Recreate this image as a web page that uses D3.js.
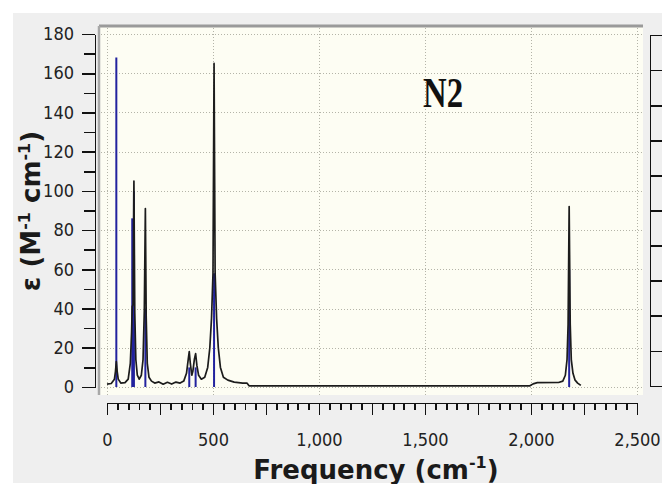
<!DOCTYPE html>
<html>
<head>
<meta charset="utf-8">
<script src="https://cdn.jsdelivr.net/npm/d3@7"></script>
<style>
  html, body { margin: 0; padding: 0; background: #fff; }
  svg { display: block; }
  .tick text { font-family: "DejaVu Sans Condensed", "DejaVu Sans", sans-serif; font-stretch: condensed; font-size: 18px; fill: #222; }
  .axis path, .axis line { stroke: #111; stroke-width: 1.6; shape-rendering: crispEdges; }
  .title { font-family: "DejaVu Sans", sans-serif; font-weight: bold; fill: #1a1a1a; }
</style>
</head>
<body>
<div id="chart"></div>
<script>
// spectrum curve (frequency cm-1, epsilon)
const specFreq = [0, 20, 35, 40, 44, 48, 53, 65, 85, 100, 110, 116, 119, 123, 127, 131, 136, 143, 152, 162, 170, 176, 181, 185, 190, 198, 210, 225, 245, 265, 285, 305, 325, 345, 362, 375, 383, 388, 393, 400, 405, 412, 418, 424, 432, 445, 461, 475, 485, 493, 500, 505, 510, 517, 525, 535, 549, 570, 600, 640, 660, 670, 1995, 2010, 2030, 2130, 2150, 2162, 2170, 2175, 2180, 2185, 2190, 2198, 2208, 2220, 2235];
const specEps  = [1.5, 1.8, 4, 8, 13, 8, 4, 2, 2.2, 4, 12, 28, 41, 42, 105, 38, 14, 6, 4, 6, 14, 39, 91, 35, 12, 5, 3, 2, 2.6, 1.4, 2.4, 1.5, 2.5, 2, 3, 7, 14, 18, 12, 6, 8, 14, 17, 11, 6, 4, 5, 10, 20, 35, 58, 165, 58, 35, 20, 10, 5, 3.5, 2.5, 2, 2, 0.6, 0.6, 1.6, 2.2, 2.3, 3, 6, 14, 32, 92, 32, 14, 7, 3.5, 2, 0.8];

// stick spectrum (blue)
const stickFreq   = [44, 119, 127, 181, 388, 418, 505, 2180];
const stickHeight = [168, 86, 100, 40, 10, 10, 58, 60];

const xTickValues = [0, 500, 1000, 1500, 2000, 2500];
const yTickValues = [0, 20, 40, 60, 80, 100, 120, 140, 160, 180];
const yMinorValues = [10, 30, 50, 70, 90, 110, 130, 150, 170];
const rightTickValues = [0, 1, 2, 3, 4, 5, 6, 7, 8, 9, 10];
const xLabel = "Frequency (cm";
const yLabel = "ε (M";
const moleculeName = "N2";

const W = 662, H = 484;
const svg = d3.select('#chart').append('svg').attr('width', W).attr('height', H);

// panel background
svg.append('rect').attr('x', 13).attr('y', 13).attr('width', W - 13).attr('height', H - 14).attr('fill', '#efefef');

const x = d3.scaleLinear().domain([0, 2500]).range([107, 637]);
const y = d3.scaleLinear().domain([0, 180]).range([387, 34]);
const yRight = d3.scaleLinear().domain([0, 10]).range([386, 35]);

// plot area
const plot = { x0: 99, x1: 643, y0: 26, y1: 395 };
svg.append('rect').attr('x', plot.x0).attr('y', plot.y0).attr('width', plot.x1 - plot.x0).attr('height', plot.y1 - plot.y0).attr('fill', '#fdfdf3');
svg.append('line').attr('x1', plot.x0).attr('x2', plot.x1).attr('y1', plot.y0).attr('y2', plot.y0).attr('stroke', '#9a9a9a').attr('stroke-width', 3);
svg.append('line').attr('x1', plot.x0).attr('x2', plot.x0).attr('y1', plot.y0).attr('y2', plot.y1).attr('stroke', '#a8a8a8').attr('stroke-width', 2.5);

// grid
const grid = svg.append('g').attr('stroke', '#b4b4a8').attr('stroke-width', 1).attr('stroke-dasharray', '1,2');
grid.selectAll('.gh').data(yTickValues).enter().append('line')
    .attr('x1', plot.x0 + 2).attr('x2', plot.x1).attr('y1', d => Math.round(y(d)) + 0.5).attr('y2', d => Math.round(y(d)) + 0.5);
grid.selectAll('.gv').data(xTickValues).enter().append('line')
    .attr('y1', plot.y0 + 2).attr('y2', plot.y1).attr('x1', d => Math.round(x(d)) + 0.5).attr('x2', d => Math.round(x(d)) + 0.5);

// sticks
svg.append('g').selectAll('line').data(stickFreq).enter().append('line')
    .attr('x1', d => x(d)).attr('x2', d => x(d))
    .attr('y1', y(0)).attr('y2', (d, i) => y(stickHeight[i]))
    .attr('stroke', '#22229e').attr('stroke-width', 2);

// broadened spectrum
const line = d3.line().x(d => x(d[0])).y(d => y(d[1]));
svg.append('path').datum(specFreq.map((f, i) => [f, specEps[i]]))
    .attr('d', line).attr('fill', 'none').attr('stroke', '#1c1c1c').attr('stroke-width', 1.7).attr('stroke-linejoin', 'round');

// label inside plot
svg.append('text').attr('transform', 'translate(443,107) scale(0.78,1)')
    .attr('text-anchor', 'middle').attr('font-family', 'Liberation Serif, serif').attr('font-weight', 'bold')
    .attr('font-size', 42).attr('fill', '#111').text(moleculeName);

// left axis
svg.append('g').attr('class', 'axis').attr('transform', 'translate(95,0)')
    .call(d3.axisLeft(y).tickValues(yMinorValues).tickSize(11).tickFormat(''))
    .call(g => g.select('.domain').remove());
svg.append('g').attr('class', 'axis').attr('transform', 'translate(95,0)')
    .call(d3.axisLeft(y).tickValues(yTickValues).tickSize(13).tickSizeOuter(0).tickPadding(8));

// bottom axis
const xMinor = d3.range(0, 2501, 50);
const xMajor = d3.range(0, 2501, 250);
svg.append('g').attr('class', 'axis').attr('transform', 'translate(0,403)')
    .call(d3.axisBottom(x).tickValues(xMinor).tickSize(7).tickSizeOuter(0).tickFormat(''));
svg.append('g').attr('class', 'axis').attr('transform', 'translate(0,403)')
    .call(d3.axisBottom(x).tickValues(xMajor).tickSize(12).tickSizeOuter(0)
        .tickFormat(d => xTickValues.includes(d) ? d3.format(',')(d) : ''))
    .call(g => g.select('.domain').remove())
    .call(g => g.selectAll('text').attr('y', 30));

// right axis (no labels)
svg.append('g').attr('class', 'axis').attr('transform', 'translate(650,0)')
    .call(d3.axisRight(yRight).tickValues(rightTickValues).tickSize(12).tickSizeOuter(0).tickFormat(''));

// axis titles
const xt = svg.append('text').attr('class', 'title').attr('x', 376).attr('y', 479)
    .attr('text-anchor', 'middle').attr('font-size', 26);
xt.append('tspan').text(xLabel);
xt.append('tspan').attr('dy', -11).attr('font-size', 16).text('-1');
xt.append('tspan').attr('dy', 11).text(')');

const yt = svg.append('text').attr('class', 'title').attr('transform', 'translate(40,211) rotate(-90)')
    .attr('text-anchor', 'middle').attr('font-size', 26);
yt.append('tspan').text(yLabel);
yt.append('tspan').attr('dy', -10).attr('font-size', 16).text('-1');
yt.append('tspan').attr('dy', 10).text(' cm');
yt.append('tspan').attr('dy', -10).attr('font-size', 16).text('-1');
yt.append('tspan').attr('dy', 10).text(')');
</script>
</body>
</html>
